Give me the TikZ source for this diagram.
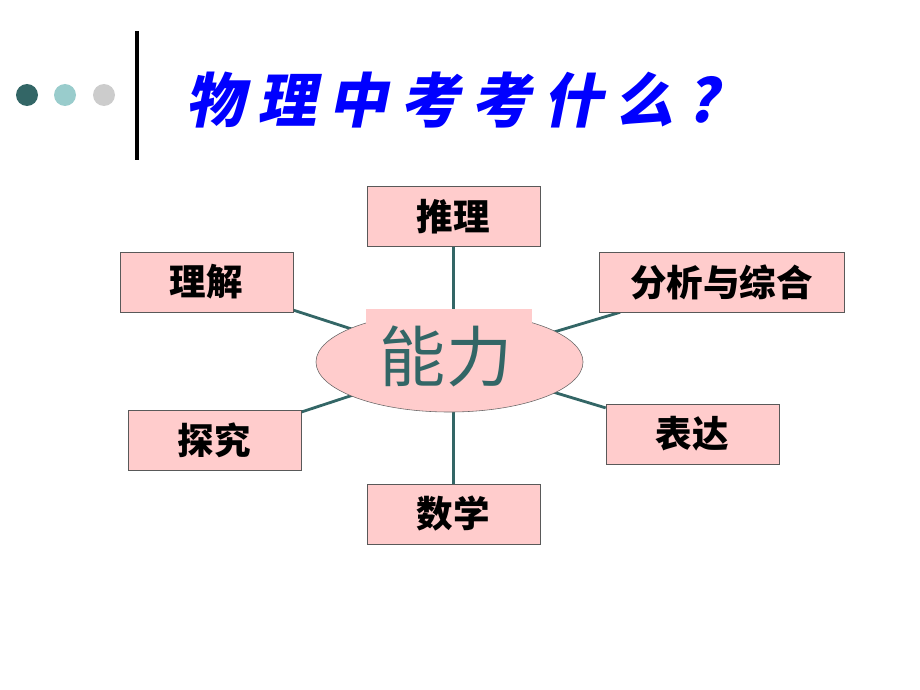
\documentclass[tikz,border=0pt]{standalone}
\usepackage{fontspec}
\usepackage{tikz}
\usetikzlibrary{shapes,backgrounds}
\newfontfamily\cjk{Noto Sans CJK SC}
\newfontfamily\titlefont{Noto Sans CJK SC}[FakeSlant=0.2,LetterSpace=21]
\definecolor{darkteal}{HTML}{336666}
\definecolor{lightteal}{HTML}{99CCCC}
\definecolor{dotgray}{HTML}{CCCCCC}
\definecolor{boxpink}{HTML}{FFCCCC}
\definecolor{titleblue}{HTML}{0000FF}
\tikzstyle{block} =
        [
                rectangle,
                draw = black!65,
                fill = boxpink,
                text centered,
                % text width = 6em,
                minimum width = 4.325cm,
                minimum height = 1.5cm,
                font = \cjk\bfseries\fontsize{26}{30}\selectfont
        ]
\tikzstyle{line} =
        [
                line width = 2pt,
                draw = darkteal
        ]
\begin{document}
\begin{tikzpicture}[x=0.025cm, y=-0.025cm]
    \useasboundingbox (0,0) rectangle (920,690);
    % dots and bar
    \fill [darkteal] (27,95) circle [radius=11];
    \fill [lightteal] (65,95) circle [radius=11];
    \fill [dotgray] (104,95) circle [radius=11];
    \draw [line width=2.2pt] (137,31) -- (137,160);
    \node [anchor=west, text=titleblue, font=\titlefont\bfseries\fontsize{42}{48}\selectfont] (title) at (181,100) {物理中考考什么?};
    % center
    \node [ellipse, draw=black!60, fill=boxpink, minimum width=6.675cm, minimum height=2.5cm] (ability) at (449.5,362) {};
    \fill [boxpink] (366,309) rectangle (532,385);
    \node [text=darkteal, font=\cjk\fontsize{47}{52}\selectfont] (abilitytext) at (446,356) {能力};
    \coordinate (hub) at (453.5,362);
    % boxes
    \node [block] (infer) at (453.5,216.5) {推理};
    \node [block] (understand) at (206.5,282) {理解};
    \node [block, minimum width = 6.125cm] (analyse) at (721.5,282) {分析与综合};
    \node [block] (explore) at (214.5,440.5) {探究};
    \node [block] (express) at (692.5,434) {表达};
    \node [block] (maths) at (453.5,514) {数学};
    \begin{pgfonlayer}{background}
        \path [line] (hub) -- (infer);
        \path [line] (hub) -- (understand);
        \path [line] (hub) -- (analyse);
        \path [line] (hub) -- (explore);
        \path [line] (hub) -- (express);
        \path [line] (hub) -- (maths);
    \end{pgfonlayer}
\end{tikzpicture}
\end{document}
